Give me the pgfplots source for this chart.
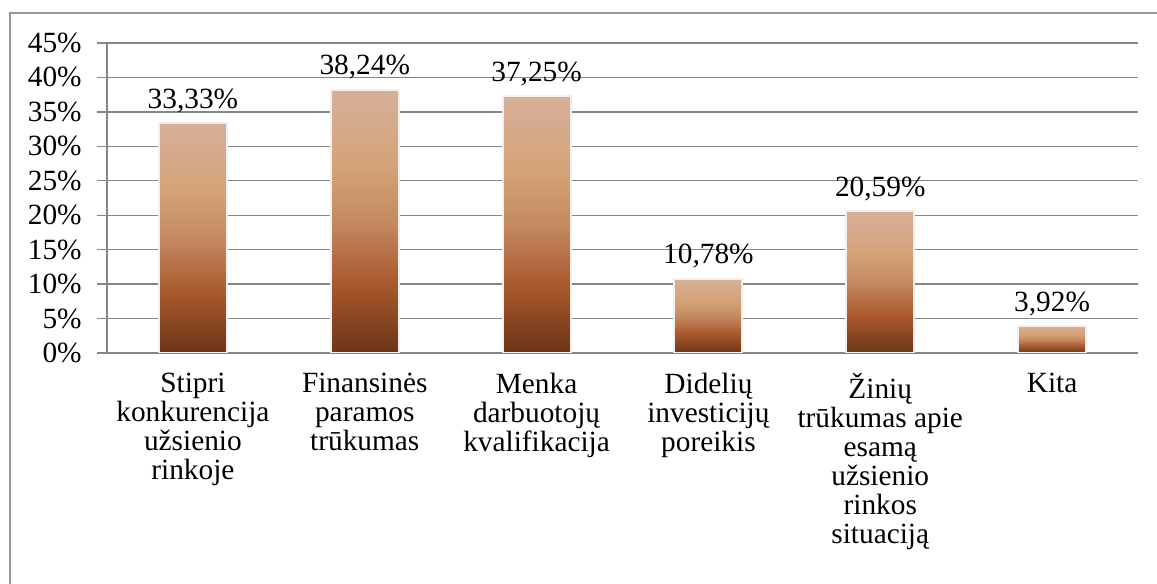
\documentclass[border=0pt]{standalone}
\usepackage{fontspec}
\setmainfont{Liberation Serif}
\usepackage{pgfplots}
\pgfplotsset{compat=1.18}
\definecolor{gridgray}{RGB}{134,134,134}
\definecolor{framegray}{RGB}{150,150,150}
\definecolor{gA}{RGB}{108,53,23}
\definecolor{gB}{RGB}{168,88,44}
\definecolor{gC}{RGB}{196,138,98}
\definecolor{gD}{RGB}{212,162,118}
\definecolor{gE}{RGB}{214,176,154}
\pgfdeclareverticalshading{bargrad}{100bp}{color(0bp)=(gA); color(25bp)=(gA); color(38bp)=(gB); color(50bp)=(gC); color(60bp)=(gD); color(75bp)=(gE); color(100bp)=(gE)}
\tikzset{barstyle/.style={draw=white!94!black, line width=1.5pt, shading=bargrad, shade}}
\begin{document}
\begin{tikzpicture}
\useasboundingbox (0,0) rectangle (867.75pt,438pt);
\draw[framegray, line width=1pt] (7.5pt,-10pt) -- (7.5pt,428.25pt) -- (880pt,428.25pt);
\begin{axis}[
  at={(80.25pt,173.25pt)}, anchor=south west,
  scale only axis, width=773.25pt, height=232.5pt,
  xmin=-0.5, xmax=5.5, ymin=0, ymax=45,
  axis lines=left, axis line style={-, gridgray, line width=1pt},
  ybar, bar width=51pt, bar shift=0pt,
  ytick={0,5,...,45},
  yticklabel={\pgfmathprintnumber{\tick}\%},
  /pgf/number format/assume math mode=true,
  ymajorgrids, grid style={gridgray, line width=1pt},
  tick align=outside, major tick length=7.5pt,
  tick style={gridgray, line width=1pt},
  xtick={0,...,5},
  x tick style={draw=none},
  minor xtick={-0.5,0.5,...,5.5},
  minor tick length=6pt,
  minor x tick style={gridgray, line width=1pt},
  xticklabels={{Stipri\\konkurencija\\užsienio\\rinkoje},{Finansinės\\paramos\\trūkumas},{Menka\\darbuotojų\\kvalifikacija},{Didelių\\investicijų\\poreikis},{Žinių\\trūkumas apie\\esamą\\užsienio\\rinkos\\situaciją},{Kita}},
  xticklabel style={align=center, font=\fontsize{22}{21.75}\selectfont, anchor=north, yshift=-4pt},
  yticklabel style={font=\fontsize{22}{21.75}\selectfont, anchor=east, xshift=-8pt},
  point meta=explicit symbolic,
  nodes near coords,
  nodes near coords style={font=\fontsize{22}{21.75}\selectfont, anchor=south, inner sep=7pt, text=black},
]
\addplot[barstyle] coordinates {(0,33.33) [33,33\%]};
\addplot[barstyle] coordinates {(1,38.24) [38,24\%]};
\addplot[barstyle] coordinates {(2,37.25) [37,25\%]};
\addplot[barstyle] coordinates {(3,10.78) [10,78\%]};
\addplot[barstyle] coordinates {(4,20.59) [20,59\%]};
\addplot[barstyle] coordinates {(5,3.92) [3,92\%]};
\end{axis}
\end{tikzpicture}
\end{document}
